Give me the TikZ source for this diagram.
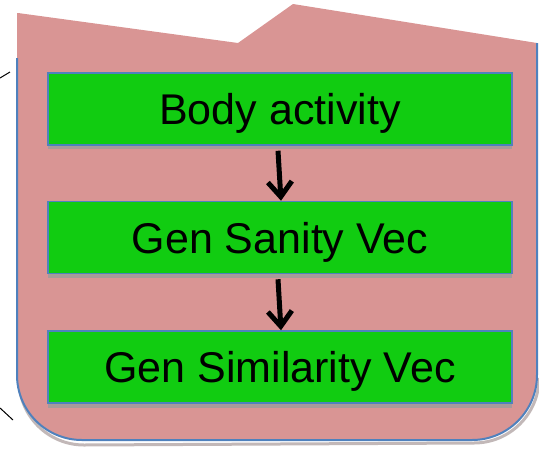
\documentclass[tikz,border=0pt]{standalone}
\usepackage{fontspec}
\setmainfont{Liberation Sans}
\usetikzlibrary{arrows.meta}
\definecolor{pinkfill}{HTML}{D99594}
\definecolor{greenfill}{HTML}{11CC11}
\definecolor{edgeblue}{HTML}{4F81BD}
\definecolor{shadowc}{HTML}{A89A9A}
\tikzset{
  stepbox/.style={draw=edgeblue, line width=1.5pt, fill=greenfill, minimum width=464pt, minimum height=72pt, inner sep=0pt, text depth=0pt, font=\fontsize{43}{50}\selectfont},
  flowarrow/.style={line width=5pt, -{Straight Barb[length=15pt,width=24pt,line width=5pt]}},
  boxshadow/.style={fill=shadowc, draw=none}
}
\begin{document}
\begin{tikzpicture}[x=1pt,y=-1pt]
\useasboundingbox (0,0) rectangle (539,448);
% shadow of main shape
\draw[shadowc, line width=3pt, opacity=0.7] (19,380) arc[start angle=180,end angle=90,radius=65] -- (474,443) arc[start angle=90,end angle=0,radius=65];
% main shape
\fill[pinkfill] (18,13) -- (238,43) -- (293,4) -- (537,43) -- (537,375) arc[start angle=0,end angle=90,radius=65] -- (82,440) arc[start angle=90,end angle=180,radius=65] -- (17,13) -- cycle;
\draw[edgeblue, line width=2pt] (17,58) -- (17,375) arc[start angle=180,end angle=90,radius=65] -- (472,440) arc[start angle=90,end angle=0,radius=65] -- (537,43);
% box shadows
\fill[boxshadow] (48,145) rectangle (512,149);
\fill[boxshadow] (48,273.5) rectangle (512,277.5);
\fill[boxshadow] (48,404) rectangle (512,408);
% boxes
\node[stepbox] (b1) at (280,109) {Body activity};
\node[stepbox] (b2) at (280,237.5) {Gen Sanity Vec};
\node[stepbox] (b3) at (280,367) {Gen Similarity Vec};
% arrows
\draw[flowarrow] ([xshift=-2pt,yshift=-5pt]b1.south) -- ([xshift=1pt]b2.north);
\draw[flowarrow] ([xshift=-2pt,yshift=-5pt]b2.south) -- ([xshift=1pt]b3.north);
% stray lines at left
\coordinate (l1a) at (0,78);
\coordinate (l1b) at (10,72);
\coordinate (l2a) at (0,408);
\coordinate (l2b) at (13,420);
\draw[black, line width=1pt] (l1a) -- (l1b);
\draw[black, line width=1pt] (l2a) -- (l2b);
\end{tikzpicture}
\end{document}
